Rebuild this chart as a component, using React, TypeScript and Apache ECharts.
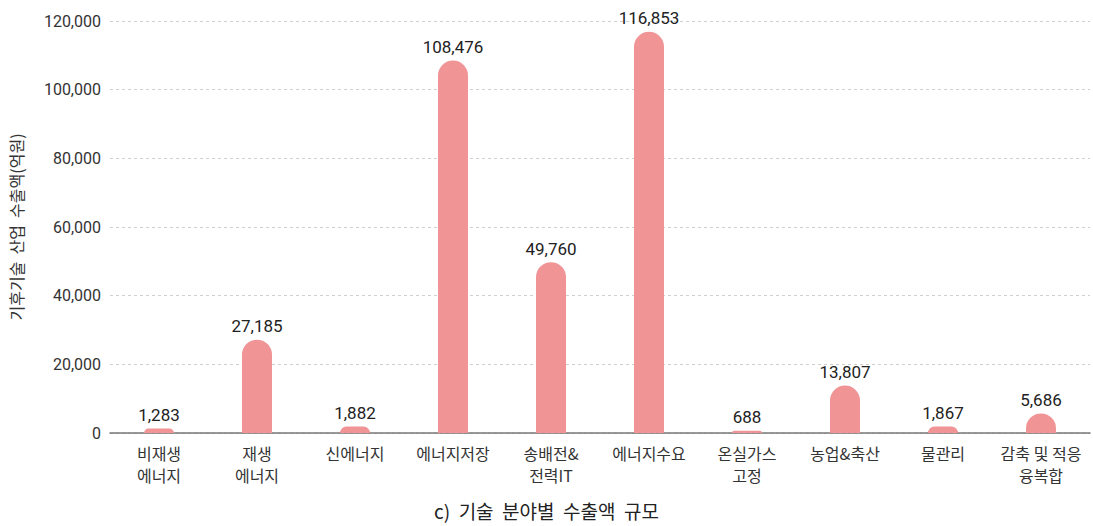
import React, { useEffect, useRef } from "react";
import * as echarts from "echarts";

const categories = [
  "비재생\n에너지",
  "재생\n에너지",
  "신에너지",
  "에너지저장",
  "송배전&\n전력IT",
  "에너지수요",
  "온실가스\n고정",
  "농업&축산",
  "물관리",
  "감축 및 적응\n융복합",
];
const exportValues = [1283, 27185, 1882, 108476, 49760, 116853, 688, 13807, 1867, 5686];
const yAxisTitle = "기후기술  산업  수출액(억원)";
const caption = "c)  기술  분야별  수출액  규모";

const FONT = "'Noto Sans CJK KR', 'Noto Sans', sans-serif";
const NUMFONT = "Roboto, 'Noto Sans', sans-serif";

export default function App() {
  const ref = useRef<HTMLDivElement>(null);
  useEffect(() => {
    if (!ref.current) return;
    const chart = echarts.init(ref.current, undefined, { renderer: "svg" });
    chart.setOption({
      animation: false,
      backgroundColor: "#ffffff",
      textStyle: { fontFamily: FONT },
      grid: { left: 107, right: 3, top: 21, bottom: 93, containLabel: false },
      xAxis: {
        type: "category",
        data: categories,
        axisTick: { show: false },
        axisLine: { lineStyle: { color: "#777", width: 1.5 } },
        axisLabel: {
          color: "#333",
          fontSize: 16,
          lineHeight: 22,
          margin: 9,
          fontFamily: FONT,
          interval: 0,
        },
      },
      yAxis: {
        type: "value",
        min: 0,
        max: 120000,
        interval: 20000,
        name: yAxisTitle,
        nameLocation: "middle",
        nameGap: 86,
        nameTextStyle: { color: "#333", fontSize: 16, fontFamily: FONT },
        axisLine: { show: false },
        axisTick: { show: false },
        axisLabel: {
          color: "#333",
          fontSize: 16,
          margin: 9,
          fontFamily: NUMFONT,
          formatter: (v: number) => v.toLocaleString("en-US"),
        },
        splitLine: { lineStyle: { color: "#cfcfcf", type: [3, 3], width: 1 } },
      },
      series: [
        {
          type: "bar",
          data: exportValues,
          barWidth: 30,
          itemStyle: { color: "#f09496", borderRadius: [15, 15, 0, 0] },
          label: {
            show: true,
            position: "top",
            distance: 5,
            color: "#222",
            fontSize: 17,
            fontFamily: NUMFONT,
            formatter: (p: any) => Number(p.value).toLocaleString("en-US"),
          },
        },
      ],
      graphic: [
        {
          type: "text",
          left: "center",
          top: 501,
          style: { text: caption, fill: "#222", fontSize: 19, fontFamily: FONT },
        },
      ],
    });
    return () => chart.dispose();
  }, []);
  return (
    <div
      ref={ref}
      style={{ position: "fixed", left: 0, top: 0, width: 1093, height: 526 }}
    />
  );
}
